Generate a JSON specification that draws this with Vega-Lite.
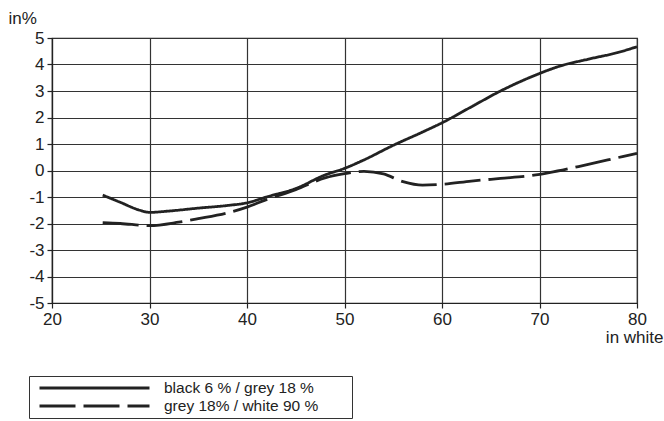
{
  "$schema": "https://vega.github.io/schema/vega-lite/v6.json",
  "width": 585,
  "height": 265,
  "autosize": {"type": "none"},
  "padding": {"left": 52, "top": 38, "right": 27, "bottom": 118},
  "background": "white",
  "config": {
    "font": "Liberation Sans",
    "view": {"stroke": "#222", "strokeWidth": 1.2},
    "axis": {
      "domainColor": "#222", "domainWidth": 1.2,
      "gridColor": "#333", "gridWidth": 1.2, "gridOpacity": 1,
      "tickColor": "#222", "tickWidth": 1.2, "tickSize": 5,
      "labelColor": "#222", "labelFontSize": 17, "labelFont": "Liberation Sans",
      "titleColor": "#222", "titleFontSize": 17, "titleFont": "Liberation Sans", "titleFontWeight": "normal"
    }
  },
  "data": {
    "values": [
      {"x": 25.2, "y": -0.93, "s": "black  6 % / grey 18 %"},
      {"x": 27, "y": -1.2, "s": "black  6 % / grey 18 %"},
      {"x": 29, "y": -1.5, "s": "black  6 % / grey 18 %"},
      {"x": 30, "y": -1.58, "s": "black  6 % / grey 18 %"},
      {"x": 32, "y": -1.53, "s": "black  6 % / grey 18 %"},
      {"x": 35, "y": -1.42, "s": "black  6 % / grey 18 %"},
      {"x": 38, "y": -1.32, "s": "black  6 % / grey 18 %"},
      {"x": 40, "y": -1.22, "s": "black  6 % / grey 18 %"},
      {"x": 42, "y": -1.0, "s": "black  6 % / grey 18 %"},
      {"x": 45, "y": -0.68, "s": "black  6 % / grey 18 %"},
      {"x": 48, "y": -0.17, "s": "black  6 % / grey 18 %"},
      {"x": 50, "y": 0.08, "s": "black  6 % / grey 18 %"},
      {"x": 52, "y": 0.4, "s": "black  6 % / grey 18 %"},
      {"x": 55, "y": 0.95, "s": "black  6 % / grey 18 %"},
      {"x": 58, "y": 1.45, "s": "black  6 % / grey 18 %"},
      {"x": 60, "y": 1.8, "s": "black  6 % / grey 18 %"},
      {"x": 63, "y": 2.4, "s": "black  6 % / grey 18 %"},
      {"x": 66, "y": 3.0, "s": "black  6 % / grey 18 %"},
      {"x": 68, "y": 3.35, "s": "black  6 % / grey 18 %"},
      {"x": 70, "y": 3.66, "s": "black  6 % / grey 18 %"},
      {"x": 72, "y": 3.93, "s": "black  6 % / grey 18 %"},
      {"x": 75, "y": 4.2, "s": "black  6 % / grey 18 %"},
      {"x": 78, "y": 4.45, "s": "black  6 % / grey 18 %"},
      {"x": 80, "y": 4.67, "s": "black  6 % / grey 18 %"},
      {"x": 25.2, "y": -1.97, "s": "grey 18% / white 90 %"},
      {"x": 27, "y": -2.0, "s": "grey 18% / white 90 %"},
      {"x": 30, "y": -2.08, "s": "grey 18% / white 90 %"},
      {"x": 33, "y": -1.95, "s": "grey 18% / white 90 %"},
      {"x": 35, "y": -1.82, "s": "grey 18% / white 90 %"},
      {"x": 38, "y": -1.6, "s": "grey 18% / white 90 %"},
      {"x": 40, "y": -1.38, "s": "grey 18% / white 90 %"},
      {"x": 42, "y": -1.1, "s": "grey 18% / white 90 %"},
      {"x": 45, "y": -0.72, "s": "grey 18% / white 90 %"},
      {"x": 48, "y": -0.28, "s": "grey 18% / white 90 %"},
      {"x": 50, "y": -0.12, "s": "grey 18% / white 90 %"},
      {"x": 52, "y": -0.03, "s": "grey 18% / white 90 %"},
      {"x": 54, "y": -0.13, "s": "grey 18% / white 90 %"},
      {"x": 56, "y": -0.42, "s": "grey 18% / white 90 %"},
      {"x": 58, "y": -0.55, "s": "grey 18% / white 90 %"},
      {"x": 60, "y": -0.52, "s": "grey 18% / white 90 %"},
      {"x": 63, "y": -0.4, "s": "grey 18% / white 90 %"},
      {"x": 66, "y": -0.3, "s": "grey 18% / white 90 %"},
      {"x": 69, "y": -0.2, "s": "grey 18% / white 90 %"},
      {"x": 71, "y": -0.08, "s": "grey 18% / white 90 %"},
      {"x": 74, "y": 0.15, "s": "grey 18% / white 90 %"},
      {"x": 77, "y": 0.4, "s": "grey 18% / white 90 %"},
      {"x": 80, "y": 0.65, "s": "grey 18% / white 90 %"}
    ]
  },
  "mark": {"type": "line", "color": "#222", "strokeWidth": 2.8, "interpolate": "monotone"},
  "encoding": {
    "x": {
      "field": "x", "type": "quantitative",
      "scale": {"domain": [20, 80], "nice": false, "zero": false},
      "axis": {
        "values": [20, 30, 40, 50, 60, 70, 80],
        "labelExpr": "'' + datum.value",
        "labelPadding": 3, "labelFlush": false,
        "title": "in white", "titleAlign": "right", "titleAnchor": null,
        "titleX": 611, "titleY": 39, "titleBaseline": "alphabetic"
      }
    },
    "y": {
      "field": "y", "type": "quantitative",
      "scale": {"domain": [-5, 5], "nice": false, "zero": false},
      "axis": {
        "values": [-5, -4, -3, -2, -1, 0, 1, 2, 3, 4, 5],
        "labelExpr": "'' + datum.value",
        "labelPadding": 3, "labelFlush": false,
        "title": "in%", "titleAngle": 0, "titleAlign": "left",
        "titleX": -44, "titleY": -15, "titleBaseline": "alphabetic"
      }
    },
    "strokeDash": {
      "field": "s", "type": "nominal",
      "scale": {
        "domain": ["black  6 % / grey 18 %", "grey 18% / white 90 %"],
        "range": [[1, 0], [36, 8]]
      },
      "legend": {
        "title": null, "orient": "none", "legendX": -23, "legendY": 338,
        "direction": "vertical",
        "symbolType": "stroke", "symbolSize": 12100, "symbolStrokeWidth": 2.8,
        "symbolStrokeColor": "#222",
        "clipHeight": 18, "rowPadding": 0,
        "padding": 3, "symbolOffset": 6, "labelOffset": 13,
        "labelFontSize": 15.5, "labelColor": "#222", "labelFont": "Liberation Sans",
        "labelLimit": 400,
        "labelExpr": "datum.label + '\u00a0\u00a0\u00a0\u00a0\u00a0\u00a0\u00a0\u200b'",
        "strokeColor": "#333", "fillColor": "white"
      }
    }
  }
}
